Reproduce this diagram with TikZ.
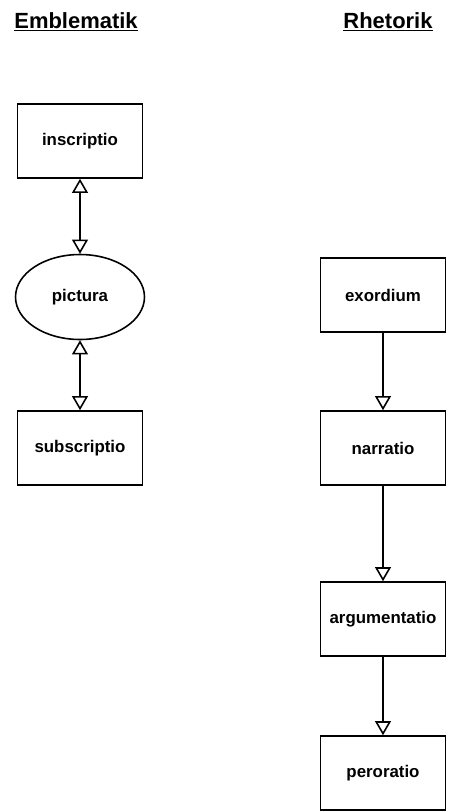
\documentclass[tikz,border=0pt]{standalone}
\usepackage{fontspec}
\setmainfont{Liberation Sans}
\usepackage{tikz}
\usetikzlibrary{shapes,arrows.meta,positioning}

\begin{document}
\begin{tikzpicture}[x=0.02cm,y=-0.02cm,
  box/.style={draw,line width=0.9pt,minimum width=2.5cm,minimum height=1.48cm,font=\fontsize{9.6}{11}\selectfont\bfseries},
  oval/.style={ellipse,draw,line width=0.9pt,minimum width=2.58cm,minimum height=1.7cm,font=\fontsize{9.6}{11}\selectfont\bfseries},
  title/.style={font=\fontsize{12.5}{14}\selectfont\bfseries},
  flow/.style={line width=0.9pt,-{Triangle[open,width=9pt,length=8pt]}},
  both/.style={line width=0.9pt,{Triangle[open,width=9pt,length=8pt]}-{Triangle[open,width=9pt,length=8pt]}}]
  \useasboundingbox (0,0) rectangle (449,812);

  % headings
  \node[title] (embl) at (76,22) {\underline{Emblematik}};
  \node[title] (rhet) at (388,22) {\underline{Rhetorik}};

  % emblem: three parts
  \node[box] (inscriptio) at (80,141) {inscriptio};
  \node[oval] (pictura) at (80,297) {pictura};
  \node[box] (subscriptio) at (80,448) {subscriptio};

  \draw[both] (inscriptio) -- (pictura);
  \draw[both] (pictura) -- (subscriptio);

  % speech: four parts
  \node[box] (exordium) at (383,295) {exordium};
  \node[box] (narratio) at (383,448) {narratio};
  \node[box] (argumentatio) at (383,619) {argumentatio};
  \node[box] (peroratio) at (383,773) {peroratio};

  \draw[flow] (exordium) -- (narratio);
  \draw[flow] (narratio) -- (argumentatio);
  \draw[flow] (argumentatio) -- (peroratio);
\end{tikzpicture}
\end{document}
